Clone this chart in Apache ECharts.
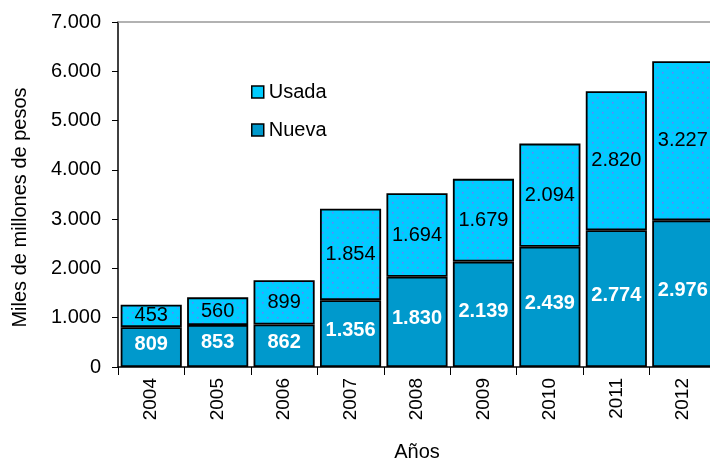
<!DOCTYPE html>
<html><head><meta charset="utf-8">
<script src="https://cdn.jsdelivr.net/npm/echarts@6/dist/echarts.min.js"></script>
<style>html,body{margin:0;padding:0;background:#fff}#c{width:710px;height:459px}</style>
</head><body><div id="c"></div>
<script>
const years = ['2004','2005','2006','2007','2008','2009','2010','2011','2012'];
const nueva = [809, 853, 862, 1356, 1830, 2139, 2439, 2774, 2976];
const usada = [453, 560, 899, 1854, 1694, 1679, 2094, 2820, 3227];
const yTicks = [0, 1000, 2000, 3000, 4000, 5000, 6000, 7000];

const fmt = v => String(v).replace(/\B(?=(\d{3})+(?!\d))/g, '.');

// dotted pattern for "Usada"
const pc = document.createElement('canvas');
pc.width = 10; pc.height = 10;
const g = pc.getContext('2d');
g.fillStyle = '#00CCFF'; g.fillRect(0,0,10,10);
g.fillStyle = '#6a7cff';
g.fillRect(2,2,1.5,1.5); g.fillRect(7,7,1.5,1.5);

const font = '"Liberation Sans", Arial, sans-serif';
const chart = echarts.init(document.getElementById('c'), null, {renderer:'canvas'});
chart.setOption({
  animation: false,
  textStyle: {fontFamily: font},
  grid: {left: 118, top: 22, bottom: 92, width: 598, containLabel: false, outerBoundsMode: 'none'},
  legend: {
    orient: 'vertical', left: 246, top: 77, itemGap: 18,
    itemWidth: 12, itemHeight: 12, icon: 'rect',
    textStyle: {fontSize: 20, color: '#000', fontFamily: font},
    data: [
      {name: 'Usada', itemStyle: {color: '#00CCFF', borderColor: '#000', borderWidth: 1.5}},
      {name: 'Nueva', itemStyle: {color: '#0099CC', borderColor: '#000', borderWidth: 1.5}}
    ]
  },
  xAxis: [{
    type: 'category', data: years,
    name: 'Años', nameLocation: 'middle', nameGap: 75,
    nameTextStyle: {fontSize: 20, color: '#000', fontFamily: font},
    axisLine: {lineStyle: {color: '#000', width: 1.5}},
    axisTick: {show: true, length: 8, alignWithLabel: false, lineStyle: {color: '#000'}},
    axisLabel: {rotate: 90, fontSize: 19, color: '#000', margin: 11, fontFamily: font}
  }, {
    type: 'category', data: years, position: 'top',
    axisLine: {lineStyle: {color: '#999', width: 1.5}},
    axisTick: {show: false}, axisLabel: {show: false}
  }],
  yAxis: {
    type: 'value', min: 0, max: 7000, interval: 1000,
    name: 'Miles de millones de pesos', nameLocation: 'middle', nameGap: 88,
    nameTextStyle: {fontSize: 20, color: '#000', fontFamily: font, padding: [0, 26, 0, 0]},
    axisLine: {show: true, lineStyle: {color: '#000', width: 1.5}},
    axisTick: {show: true, length: 6, lineStyle: {color: '#000'}},
    splitLine: {show: false},
    axisLabel: {fontSize: 20, color: '#000', margin: 17, fontFamily: font,
      formatter: v => yTicks.includes(v) ? fmt(v) : ''}
  },
  series: [
    {
      name: 'Nueva', type: 'bar', stack: 'a', data: nueva,
      barCategoryGap: '8%',
      itemStyle: {color: '#0099CC', borderColor: '#000', borderWidth: 1.8},
      label: {show: true, position: 'inside', offset: [0, -3], formatter: p => fmt(p.value),
        color: '#fff', fontWeight: 'bold', fontSize: 20, fontFamily: font}
    },
    {
      name: 'Usada', type: 'bar', stack: 'a', data: usada,
      itemStyle: {color: {image: pc, repeat: 'repeat'}, borderColor: '#000', borderWidth: 1.8},
      label: {show: true, position: 'inside', formatter: p => fmt(p.value),
        color: '#000', fontSize: 20, fontFamily: font}
    }
  ]
});
</script></body></html>
